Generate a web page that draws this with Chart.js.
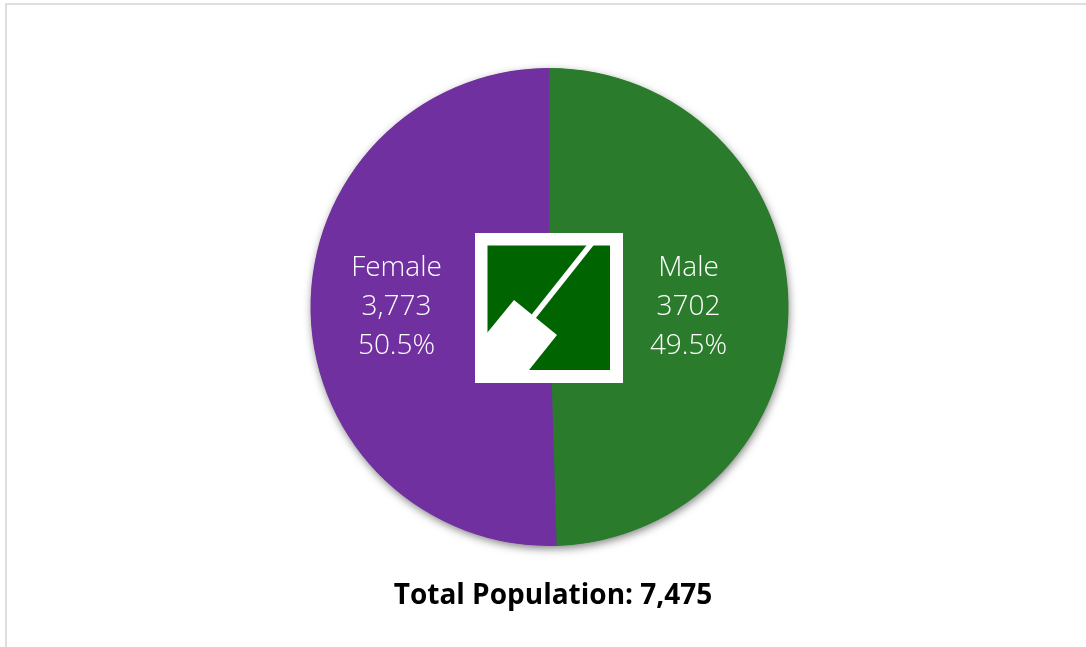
<!DOCTYPE html>
<html lang="en">
<head>
    <meta charset="UTF-8">
    <title>Total Population</title>
    <script src="https://cdn.jsdelivr.net/npm/chart.js"></script>
    <style>
        html, body { margin: 0; background: #ffffff; overflow: hidden; }
        #wrap { position: relative; width: 1086px; height: 647px; }
        #frame {
            position: absolute; left: 5px; top: 3px; right: 0; bottom: 0;
            border-left: 2px solid #dedede; border-top: 2px solid #dedede;
        }
        canvas { position: absolute; left: 0; top: 0; }
        #logo { position: absolute; left: 475px; top: 233px; }
        #total {
            position: absolute; left: 353px; width: 400px; top: 573px;
            text-align: center; color: #000000;
            font: 700 28px/40px 'Open Sans', sans-serif;
        }
    </style>
</head>
<body>
<div id="wrap">
    <div id="frame"></div>
    <canvas id="pie" width="1086" height="647"></canvas>
    <svg id="logo" width="148" height="150" viewBox="0 0 148 150">
        <rect width="148" height="150" fill="#ffffff"/>
        <rect x="12.5" y="12.5" width="122.5" height="124.5" fill="#006400"/>
        <line x1="116.9" y1="10" x2="55" y2="88" stroke="#ffffff" stroke-width="5.4"/>
        <polygon points="39,67 82,102 54,137 12,137 12,100" fill="#ffffff"/>
    </svg>
    <div id="total">Total Population: 7,475</div>
</div>

<script>
    const categories = ['Male', 'Female'];
    const population = [3702, 3773];
    const countLabels = ['3702', '3,773'];
    const percentLabels = ['49.5%', '50.5%'];
    const sliceColors = ['#2B7B2D', '#7030A0'];

    // labels sit a bit further out on the female side in the original
    const labelRadius = [139, 153];

    // soft drop shadow, drawn once under the whole pie so it stays off the seam
    const pieShadow = {
        id: 'pieShadow',
        beforeDatasetDraw(chart) {
            const ctx = chart.ctx;
            const arc = chart.getDatasetMeta(0).data[0];
            ctx.save();
            ctx.shadowColor = 'rgba(0,0,0,0.5)';
            ctx.shadowBlur = 9;
            ctx.shadowOffsetX = 1;
            ctx.shadowOffsetY = 3;
            ctx.fillStyle = sliceColors[0];
            ctx.beginPath();
            ctx.arc(arc.x, arc.y, arc.outerRadius - 0.5, 0, Math.PI * 2);
            ctx.fill();
            ctx.restore();
        }
    };

    // three line label inside each slice
    const sliceLabels = {
        id: 'sliceLabels',
        afterDatasetsDraw(chart) {
            const ctx = chart.ctx;
            ctx.save();
            ctx.fillStyle = '#ffffff';
            ctx.font = "300 28px 'Open Sans', sans-serif";
            ctx.textAlign = 'center';
            ctx.textBaseline = 'middle';
            chart.getDatasetMeta(0).data.forEach((arc, i) => {
                const mid = (arc.startAngle + arc.endAngle) / 2;
                const x = arc.x + Math.cos(mid) * labelRadius[i];
                const y = 307;
                ctx.fillText(categories[i], x, y - 39);
                ctx.fillText(countLabels[i], x, y);
                ctx.fillText(percentLabels[i], x, y + 39);
            });
            ctx.restore();
        }
    };

    new Chart(document.getElementById('pie'), {
        type: 'pie',
        data: {
            labels: categories,
            datasets: [{
                data: population,
                backgroundColor: sliceColors,
                borderWidth: 0
            }]
        },
        options: {
            responsive: false,
            animation: false,
            layout: { padding: { left: 310, right: 297, top: 68, bottom: 101 } },
            plugins: {
                legend: { display: false },
                tooltip: { enabled: false }
            }
        },
        plugins: [pieShadow, sliceLabels]
    });
</script>
</body>
</html>
